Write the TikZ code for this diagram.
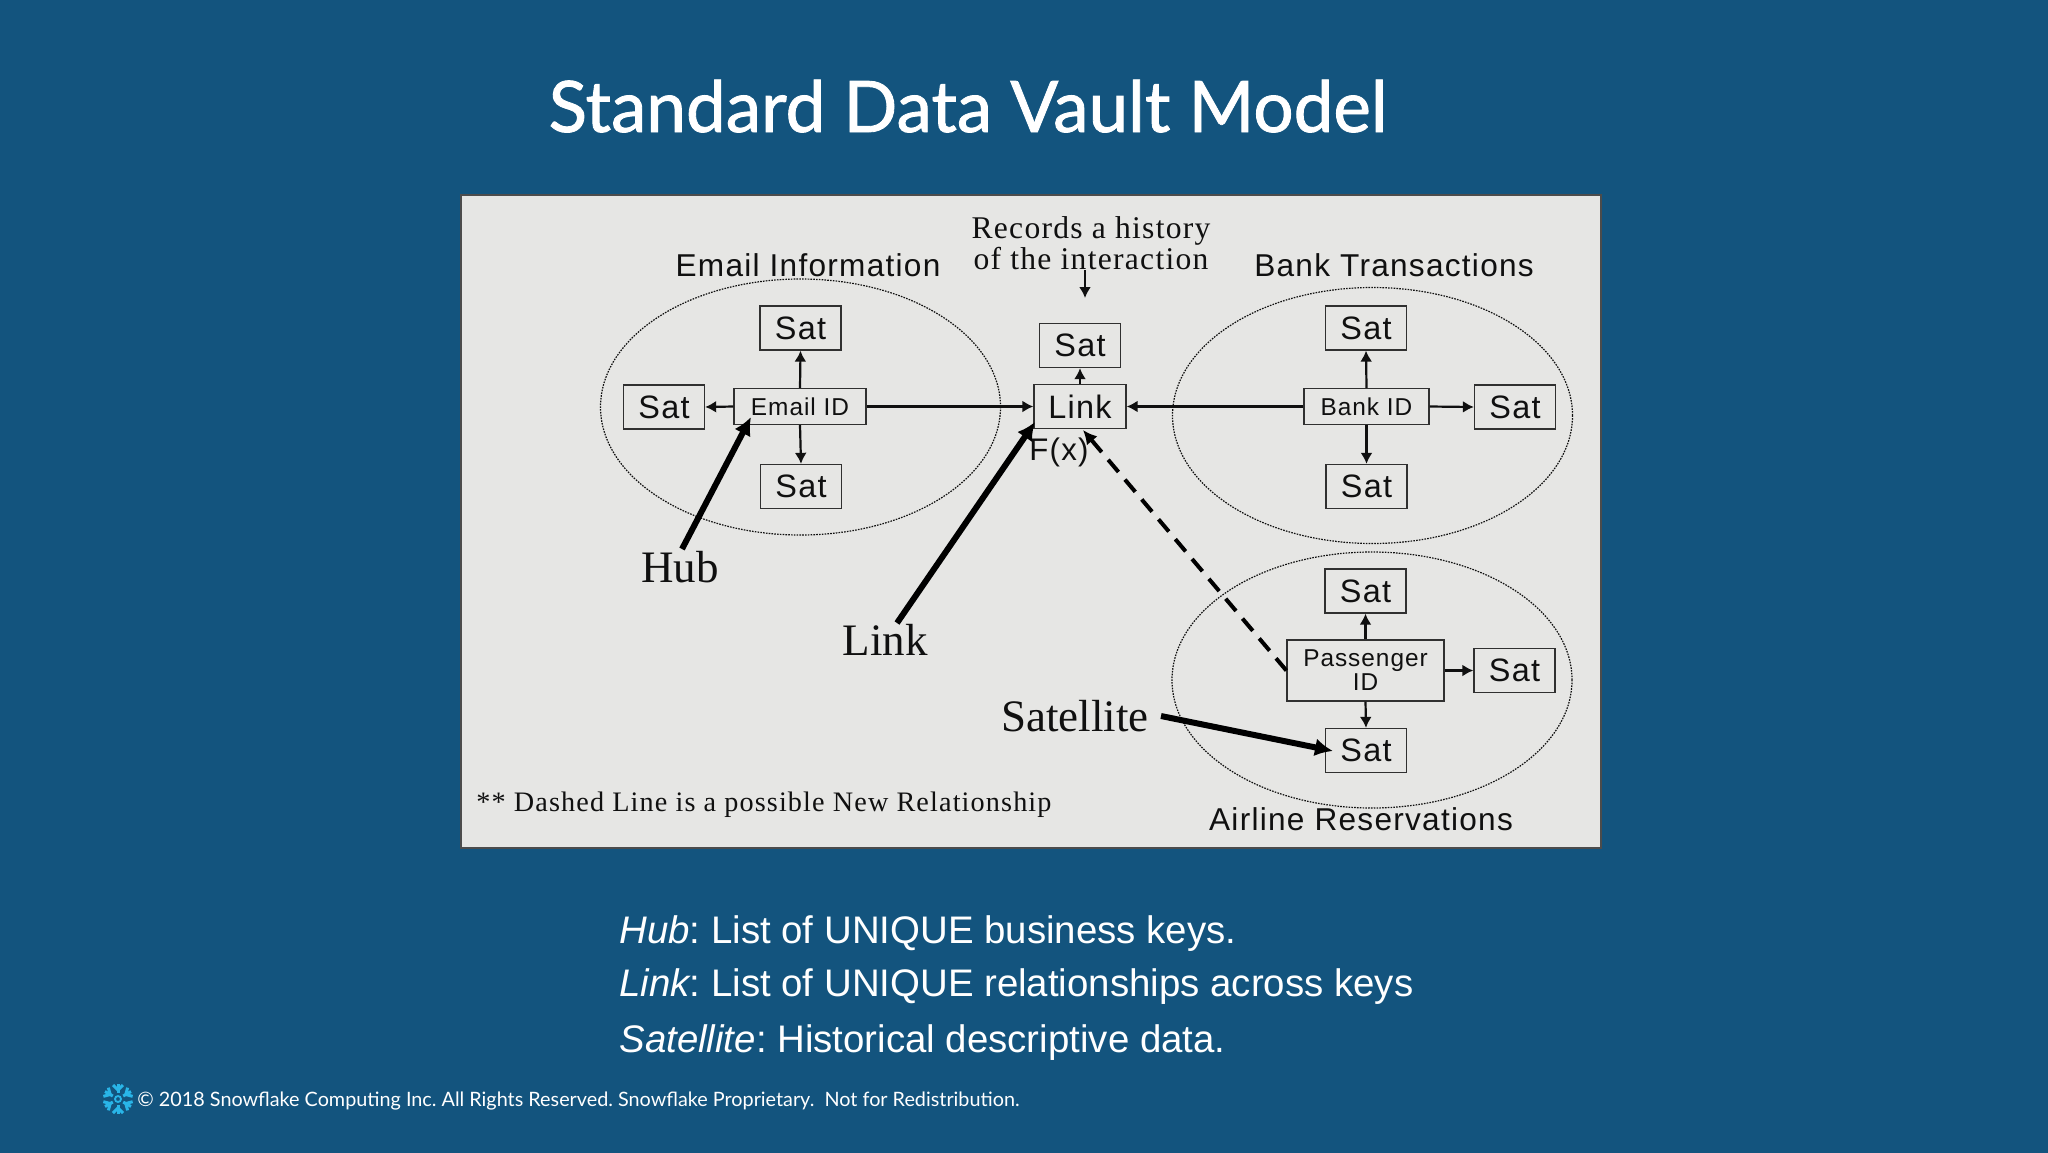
\documentclass[tikz,border=0pt]{standalone}
\usepackage{fontspec}
\usetikzlibrary{arrows.meta,shapes.geometric}
\setmainfont{Liberation Serif}
\newfontfamily\serifw{Liberation Serif}[LetterSpace=4]
\newfontfamily\arialf{Liberation Sans}
\newfontfamily\arialw{Liberation Sans}[LetterSpace=4]
\newfontfamily\latof{Lato}
\newfontfamily\latom{Lato}[FakeBold=1.2]
\definecolor{slide}{HTML}{13547E}
\definecolor{panel}{HTML}{E6E6E4}
\definecolor{ink}{HTML}{101010}
\definecolor{boxline}{HTML}{303030}
\definecolor{flake}{HTML}{29B5E8}
\frenchspacing
\tikzset{
  box/.style={draw=boxline,line width=0.65pt,fill=panel,inner sep=0pt,text=ink},
  satbox/.style={box,minimum width=40.5pt,minimum height=22pt,font=\arialw\fontsize{16.2}{18}\selectfont},
  keybox/.style={box,minimum height=18pt,font=\arialw\fontsize{12.2}{12.5}\selectfont},
  group/.style={draw=ink,line width=0.6pt,dash pattern=on 0.8pt off 0.6pt,ellipse,minimum width=200pt,minimum height=128pt,inner sep=0pt},
  flow/.style={draw=ink,line width=1.1pt,-{Latex[length=5.5pt,width=6pt]}},
  pointer/.style={draw=black,line width=3pt,-{Latex[length=9pt,width=9pt]}},
  grouplabel/.style={anchor=base,text=ink,font=\arialw\fontsize{15.8}{18}\selectfont},
  seriflabel/.style={anchor=base,text=ink,font=\fontsize{22.5}{26}\selectfont},
  notelabel/.style={anchor=base,text=ink,font=\serifw\fontsize{15.8}{20}\selectfont},
  bodyline/.style={anchor=base west,text=white,inner sep=0pt,font=\arialf\fontsize{19.2}{22}\selectfont}
}
\begin{document}
\begin{tikzpicture}[x=0.5pt,y=-0.5pt]
\useasboundingbox (0,0) rectangle (2048,1152);
\fill[slide] (-10,-10) rectangle (2058,1162);
\node[anchor=base,text=white,inner sep=0pt,font=\latom\fontsize{35.5}{40}\selectfont] (title) at (968,132) {Standard Data Vault Model};
\draw[draw=black!70,fill=panel,line width=0.6pt] (461,195) rectangle (1601,848);
% groups
\node[group] (emailgroup) at (800.5,407) {};
\node[group] (bankgroup) at (1372.5,415.5) {};
\node[group] (airgroup) at (1372,680) {};
% boxes
\node[satbox] (etop) at (800.5,328) {Sat};
\node[satbox] (eleft) at (664,407) {Sat};
\node[satbox] (ebottom) at (801,486.5) {Sat};
\node[keybox,minimum width=66pt] (email) at (800,406.5) {Email ID};
\node[satbox,minimum width=46pt] (link) at (1080,406.5) {Link};
\node[satbox] (lsat) at (1080,345.5) {Sat};
\node[satbox] (btop) at (1366,328) {Sat};
\node[keybox,minimum width=62.5pt] (bank) at (1366.5,406.5) {Bank ID};
\node[satbox] (bright) at (1515,407) {Sat};
\node[satbox] (bbottom) at (1366.5,486.5) {Sat};
\node[satbox] (atop) at (1365.5,591) {Sat};
\node[keybox,minimum width=78.5pt,minimum height=30.5pt,align=center] (pass) at (1365.5,670.5) {Passenger\\[-0.5pt]ID};
\node[satbox] (aright) at (1514.5,670.5) {Sat};
\node[satbox] (abottom) at (1366,750.5) {Sat};
% flows
\draw[flow] (email.north) -- (etop.south);
\draw[flow] (email.west) -- (eleft.east);
\draw[flow] (email.south) -- (ebottom.north);
\draw[flow] (email.east) -- (link.west);
\draw[flow] (link.north) -- (lsat.south);
\draw[flow] (bank.west) -- (link.east);
\draw[flow] (bank.north) -- (btop.south);
\draw[flow] (bank.east) -- (bright.west);
\draw[flow] (bank.south) -- (bbottom.north);
\draw[flow] (pass.north) -- (atop.south);
\draw[flow] (pass.east) -- (aright.west);
\draw[flow] (pass.south) -- (abottom.north);
% labels
\node[grouplabel] (emaillabel) at (808,276) {Email Information};
\node[grouplabel] (banklabel) at (1394,276) {Bank Transactions};
\node[grouplabel] (airlabel) at (1361,830.5) {Airline Reservations};
\node[notelabel] (rec1) at (1091,238) {Records a history};
\node[notelabel] (rec2) at (1091,269.5) {of the interaction};
\node[anchor=base,text=ink,font=\arialw\fontsize{15.6}{18}\selectfont] (fx) at (1059,460) {F(x)};
\node[seriflabel] (hublabel) at (680,582) {Hub};
\node[seriflabel] (linklabel) at (885,655) {Link};
\node[seriflabel] (satlabel) at (1075,731.5) {Satellite};
\node[anchor=base west,inner sep=0pt,text=ink,font=\serifw\fontsize{14.1}{16}\selectfont] (dashnote) at (476,811) {** Dashed Line is a possible New Relationship};
% pointers
\coordinate (recstart) at (1085,270);
\coordinate (recend) at (1085,298);
\draw[flow] (recstart) -- (recend);
\coordinate (hubstart) at (682,549);
\coordinate (hubend) at (751,417);
\draw[pointer] (hubstart) -- (hubend);
\coordinate (linkstart) at (897,623);
\coordinate (linkend) at (1035,422);
\draw[pointer] (linkstart) -- (linkend);
\coordinate (satstart) at (1161,716);
\coordinate (satend) at (1333,751);
\draw[pointer] (satstart) -- (satend);
\coordinate (dashend) at (1083,430);
\draw[draw=black,line width=2pt,dash pattern=on 8pt off 5pt,-{Latex[length=7pt,width=7pt]}] (pass.west) -- (dashend);
% body
\node[bodyline] (hubdef) at (619,943) {{\itshape Hub}: List of UNIQUE business keys.};
\node[bodyline] (linkdef) at (619,996) {{\itshape Link}: List of UNIQUE relationships across keys};
\node[bodyline] (satdef) at (619,1052) {{\itshape Satellite}: Historical descriptive data.};
% footer
\node[anchor=base west,inner sep=0pt,text=white,font=\latof\fontsize{9.9}{12}\selectfont] (footer) at (137,1106) {© 2018 Snowflake Computing Inc. All Rights Reserved. Snowflake Proprietary.\ \ Not for Redistribution.};
% logo
\begin{scope}[shift={(118,1099)}]
\foreach \a in {30,90,150,210,270,330}{
  \draw[flake,line width=1.5pt,rotate=\a] (6,0) -- (15,0);
  \draw[flake,line width=1.5pt,rotate=\a] (14,-5) -- (9,0) -- (14,5);
}
\draw[flake,line width=0.9pt] (0,0) circle (3);
\end{scope}
\end{tikzpicture}
\end{document}
